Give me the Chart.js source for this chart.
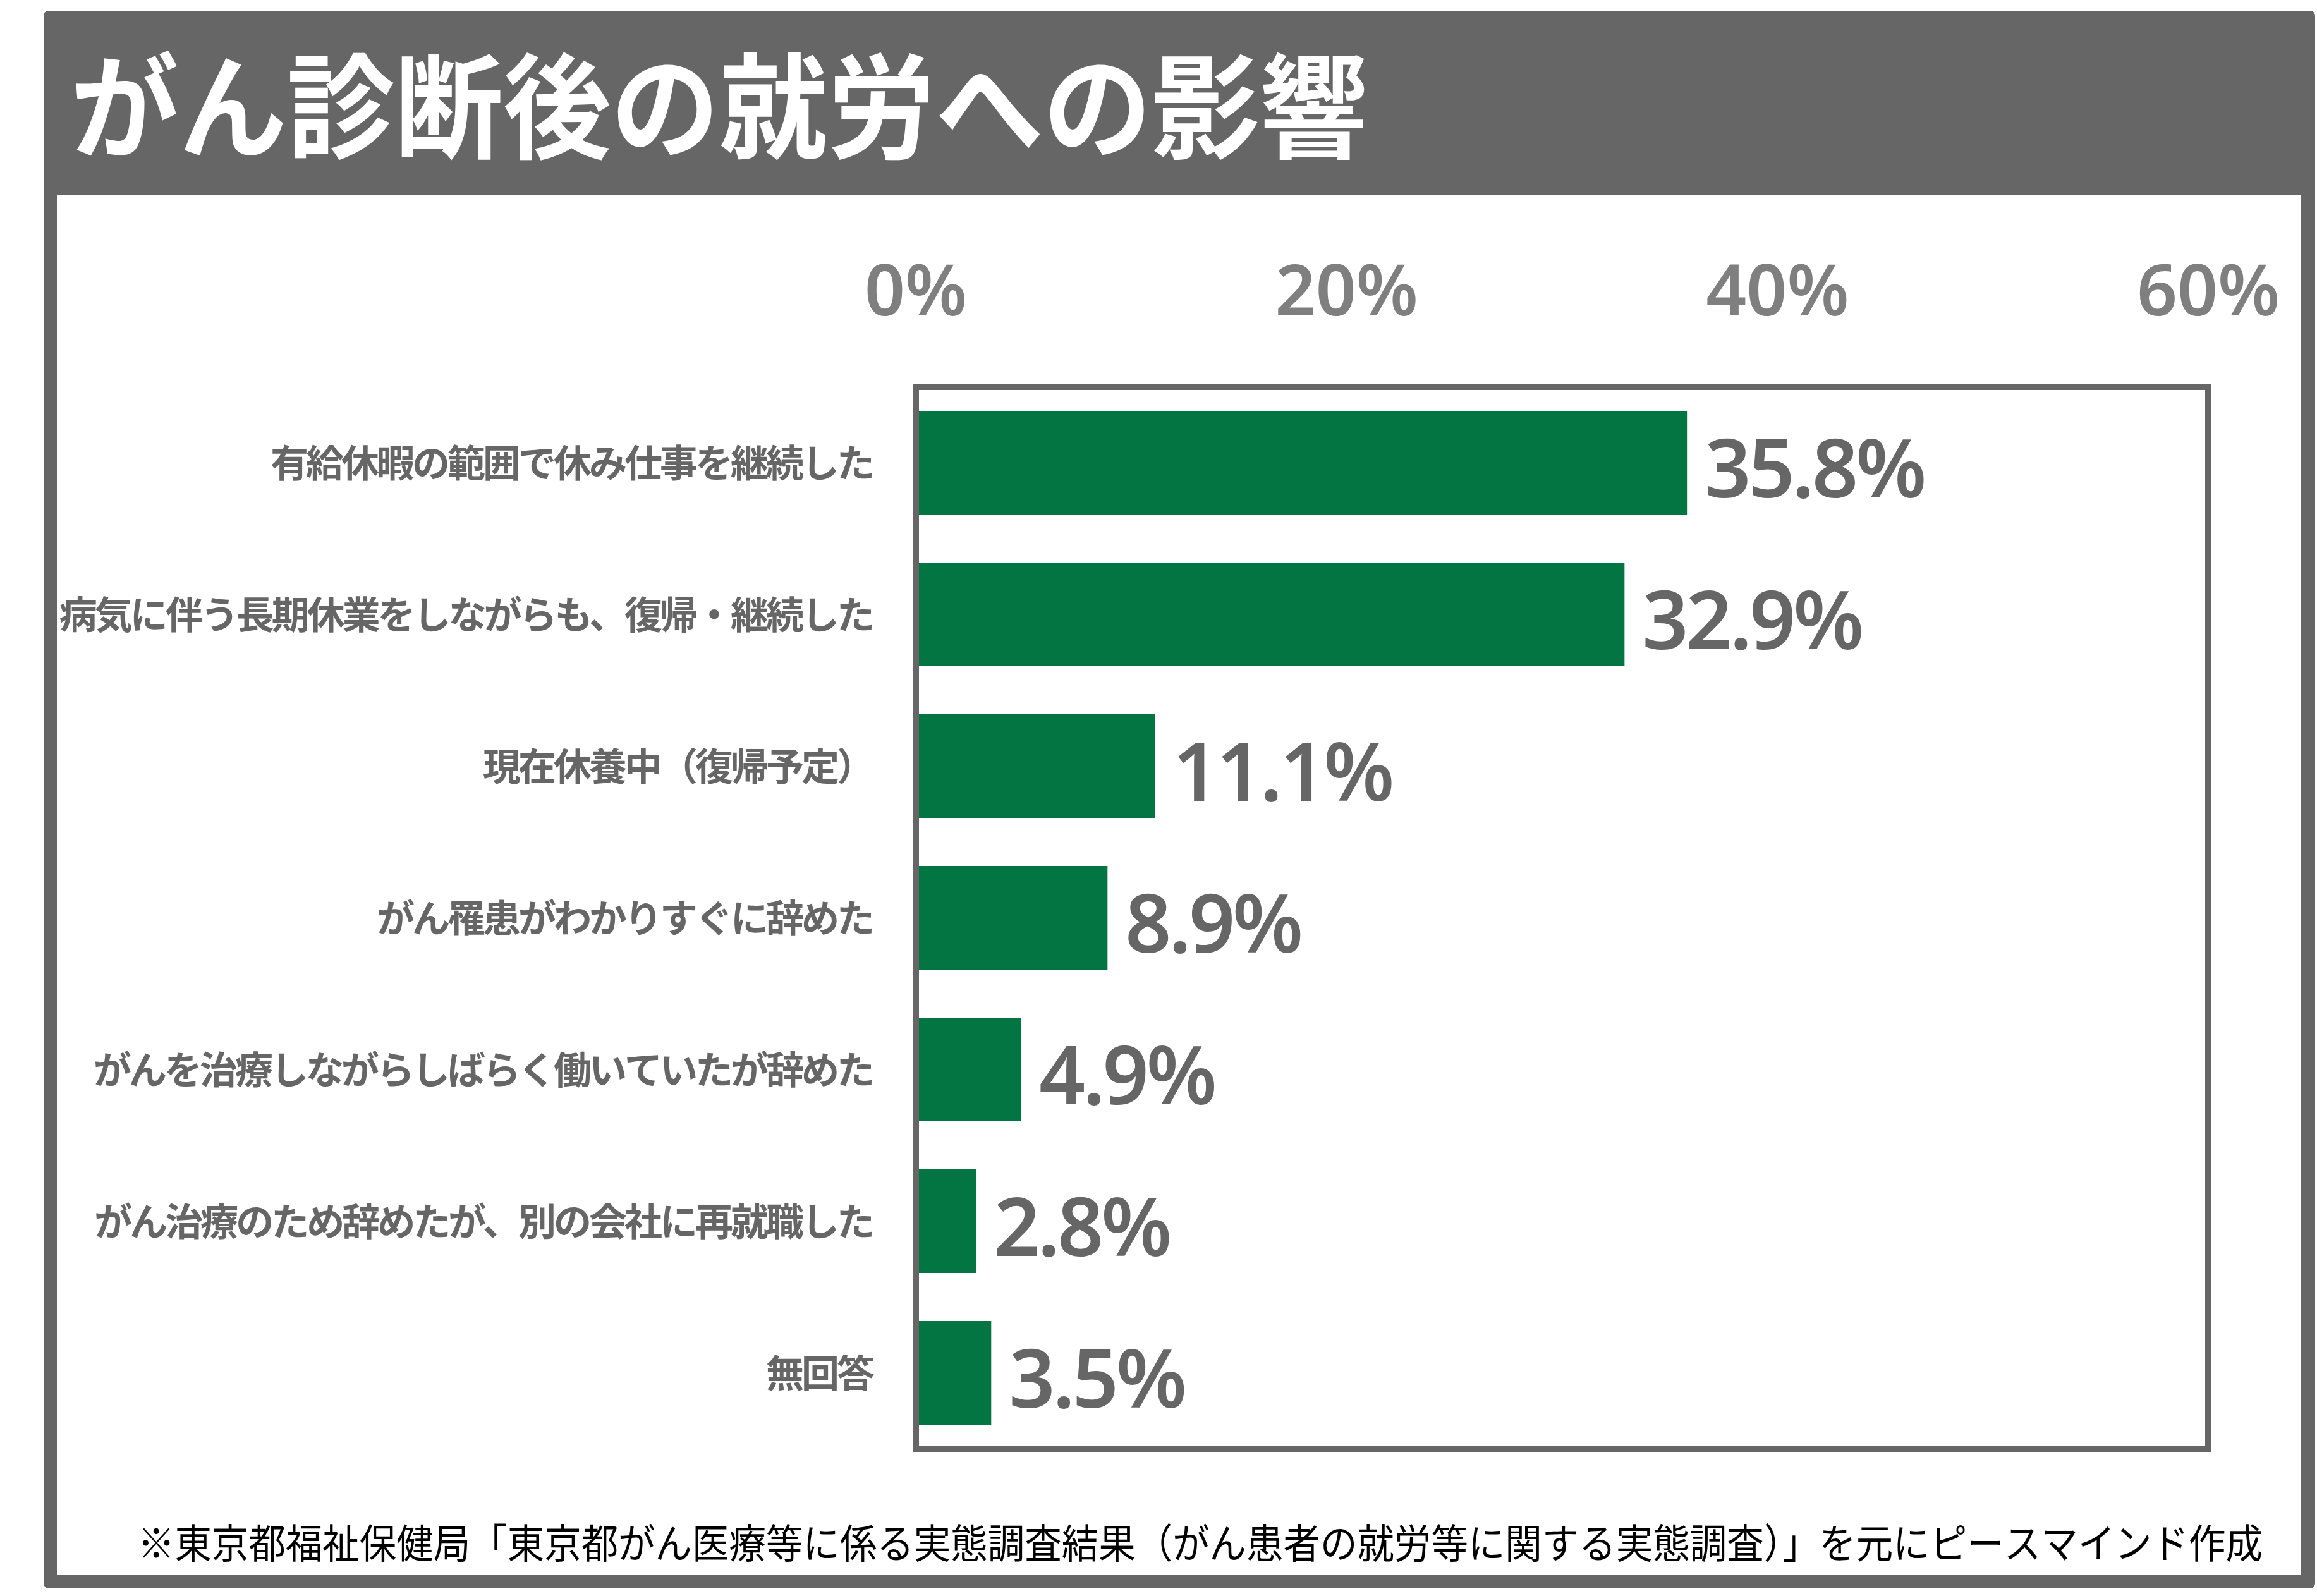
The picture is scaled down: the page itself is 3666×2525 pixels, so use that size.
<!DOCTYPE html>
<html>
<head>
<meta charset="utf-8">
<script src="https://cdn.jsdelivr.net/npm/chart.js@4.4.1/dist/chart.umd.min.js"></script>
<style>
html,body{margin:0;padding:0;background:#fff;}
#wrap{position:relative;width:3666px;height:2525px;overflow:hidden;}
canvas{display:block;}
</style>
</head>
<body>
<div id="wrap"><canvas id="c" width="3666" height="2525"></canvas></div>
<script>
// ---- data ----
const chartTitle = 'がん診断後の就労への影響';
const sourceNote = '※東京都福祉保健局「東京都がん医療等に係る実態調査結果（がん患者の就労等に関する実態調査）」を元にピースマインド作成';
const categories = [
  '有給休暇の範囲で休み仕事を継続した',
  '病気に伴う長期休業をしながらも、復帰・継続した',
  '現在休養中（復帰予定）',
  'がん罹患がわかりすぐに辞めた',
  'がんを治療しながらしばらく働いていたが辞めた',
  'がん治療のため辞めたが、別の会社に再就職した',
  '無回答'
];
const values = [35.8, 32.9, 11.1, 8.9, 4.9, 2.8, 3.5];
const axisMin = 0, axisMax = 60, axisStep = 20;
const tickSuffix = '%';

const CJK = '"Noto Sans CJK JP", "Noto Sans CJK SC", sans-serif';
const LAT = '"Noto Sans", "Open Sans", sans-serif';

const framePlugin = {
  id: 'frame',
  beforeDraw(chart) {
    const ctx = chart.ctx;
    ctx.save();
    ctx.letterSpacing = '0px';
    // outer grey frame
    ctx.fillStyle = '#666666';
    ctx.beginPath();
    if (ctx.roundRect) ctx.roundRect(69, 17, 3594, 2496, 8); else ctx.rect(69, 17, 3594, 2496);
    ctx.fill();
    // inner white panel
    ctx.fillStyle = '#ffffff';
    ctx.fillRect(90, 308, 3551, 2184);
    // title
    ctx.font = '700 180px ' + CJK;
    ctx.fillStyle = '#ffffff';
    ctx.textBaseline = 'alphabetic';
    ctx.textAlign = 'left';
    let w = ctx.measureText(chartTitle).width;
    ctx.save();
    ctx.translate(112, 236);
    ctx.scale(2052 / w, 1);
    ctx.fillText(chartTitle, 0, 0);
    ctx.restore();
    // source note
    ctx.font = '400 64px ' + CJK;
    ctx.fillStyle = '#000000';
    w = ctx.measureText(sourceNote).width;
    ctx.save();
    ctx.translate(218, 2465);
    ctx.scale(3362 / w, 1);
    ctx.fillText(sourceNote, 0, 0);
    ctx.restore();
    ctx.restore();
    // condensed spacing for the category labels (drawn next by the y axis)
    ctx.letterSpacing = '-4px';
  },
  beforeDatasetsDraw(chart) {
    chart.ctx.letterSpacing = '0px';
  },
  afterDatasetsDraw(chart) {
    const ctx = chart.ctx;
    const a = chart.chartArea;
    ctx.save();
    // value labels
    const meta = chart.getDatasetMeta(0);
    ctx.letterSpacing = '-4px';
    ctx.font = '600 128px ' + LAT;
    ctx.fillStyle = '#666666';
    ctx.textAlign = 'left';
    ctx.textBaseline = 'alphabetic';
    meta.data.forEach((bar, i) => {
      ctx.fillText(values[i].toFixed(1) + '%', bar.x + 28, bar.y + 55);
    });
    ctx.letterSpacing = '0px';
    // plot box border
    ctx.strokeStyle = '#666666';
    ctx.lineWidth = 10;
    ctx.strokeRect(a.left, a.top, a.right - a.left, a.bottom - a.top);
    ctx.restore();
  }
};

function build() {
  new Chart(document.getElementById('c'), {
    type: 'bar',
    data: {
      labels: categories,
      datasets: [{
        data: values,
        backgroundColor: '#037542',
        borderWidth: 0,
        categoryPercentage: 1,
        barPercentage: 0.683
      }]
    },
    options: {
      indexAxis: 'y',
      responsive: false,
      devicePixelRatio: 1,
      animation: false,
      layout: { padding: { left: 0, top: 300, right: 172, bottom: 233 } },
      plugins: { legend: { display: false }, tooltip: { enabled: false }, title: { display: false } },
      scales: {
        x: {
          position: 'top',
          min: axisMin, max: axisMax,
          grid: { display: false, drawTicks: false },
          border: { display: false },
          ticks: {
            stepSize: axisStep,
            callback: v => v + tickSuffix,
            padding: 0,
            z: 1,
            maxRotation: 0,
            color: '#7f7f7f',
            font: { family: LAT, size: 112, weight: '600', lineHeight: '290px' }
          },
          afterFit: s => { s.height = 312; }
        },
        y: {
          grid: { display: false, drawTicks: false },
          border: { display: false },
          ticks: {
            padding: 69,
            color: '#666666',
            autoSkip: false,
            font: { family: CJK, size: 60, weight: '700' }
          },
          afterFit: s => { s.width = 1449; }
        }
      }
    },
    plugins: [framePlugin]
  });
}

const loads = [
  '700 180px "Noto Sans CJK JP"', '400 64px "Noto Sans CJK JP"', '700 60px "Noto Sans CJK JP"',
  '600 128px "Noto Sans"', '600 112px "Noto Sans"'
].map(f => document.fonts.load(f, 'がん0%').catch(() => null));
Promise.race([Promise.all(loads), new Promise(r => setTimeout(r, 1500))]).then(build);
</script>
</body>
</html>
